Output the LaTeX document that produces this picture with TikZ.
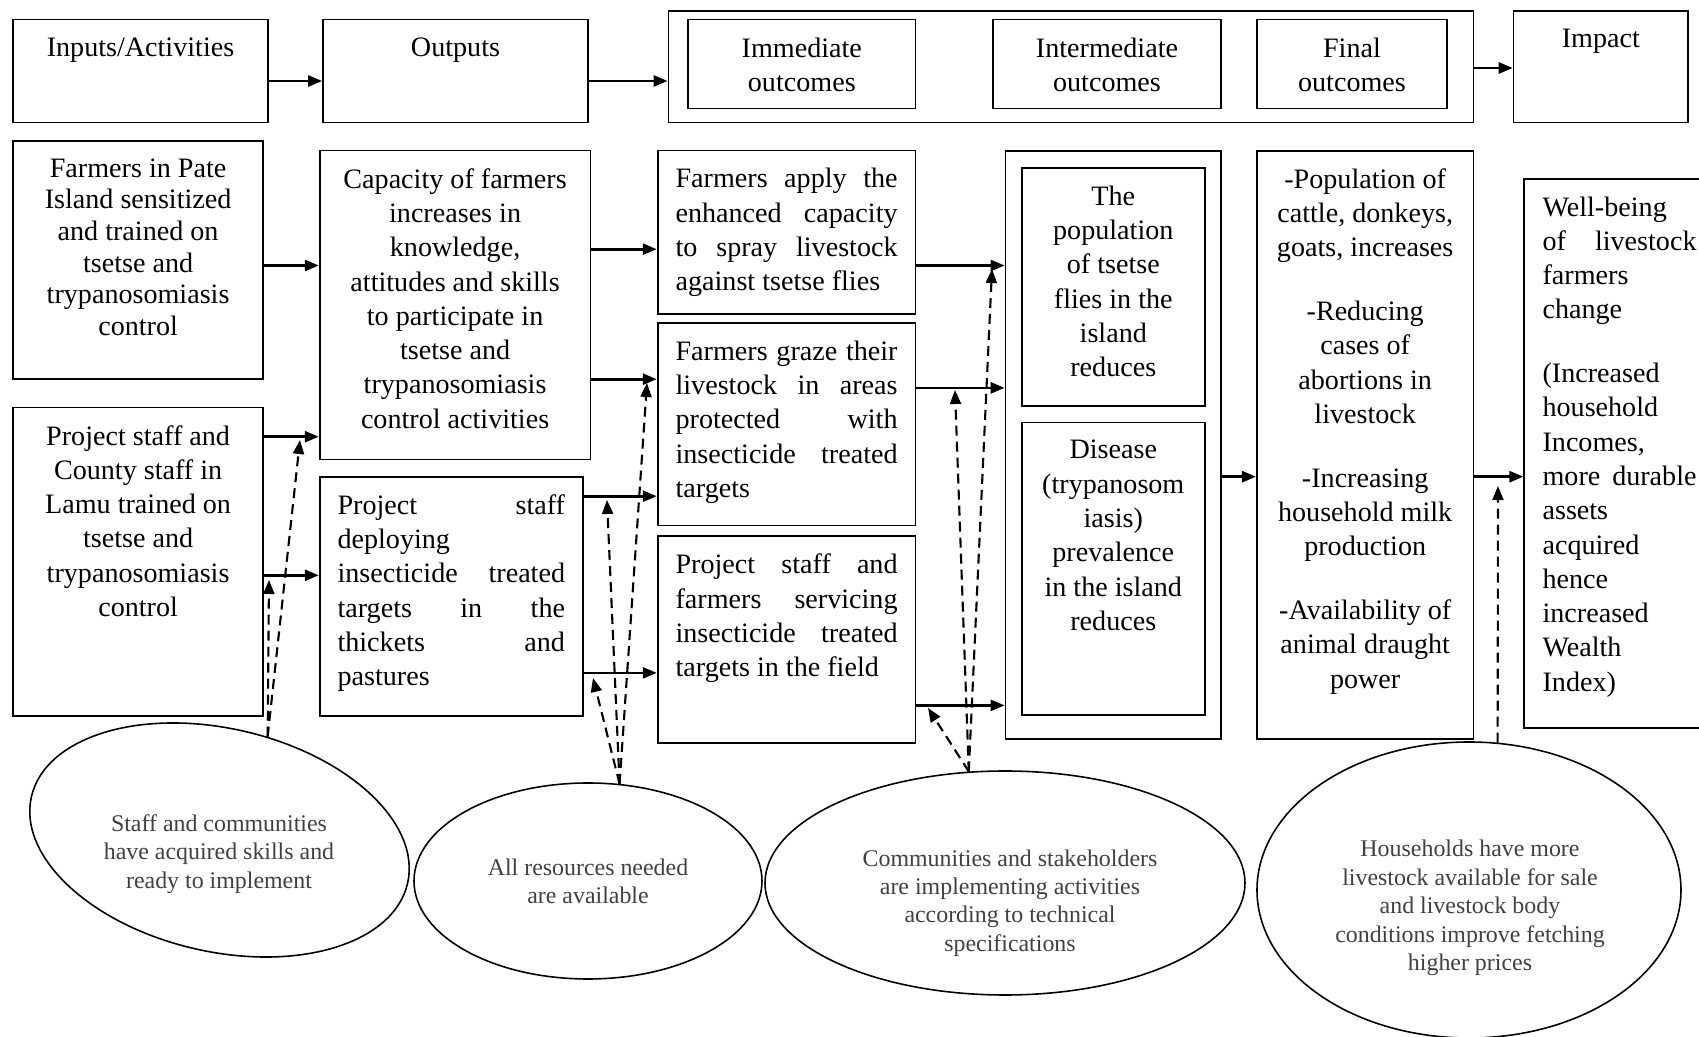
\documentclass[tikz,border=0pt]{standalone}
\usepackage{fontspec}
\setmainfont{Liberation Serif}
\usepackage{tikz}
\usetikzlibrary{shapes.geometric, arrows.meta, positioning, calc}

\tikzset{
    box/.style={rectangle,draw=black,line width=0.5pt,inner sep=0pt},
    txt/.style={font=\fontsize{8}{9.75}\selectfont,inner sep=0pt,anchor=north,align=center},
    jtxt/.style={font=\fontsize{8}{9.75}\selectfont,inner sep=0pt,anchor=north,align=justify,text width=2.22cm},
    bubble/.style={ellipse,draw=black,line width=0.45pt,inner sep=0pt},
    btxt/.style={font=\fontsize{6.8}{8.1}\selectfont,text=black!75,align=center,inner sep=0pt},
    flow/.style={line width=0.75pt,-{Triangle[length=1.4mm,width=1.1mm]}},
    hint/.style={line width=0.6pt,dash pattern=on 1mm off 0.6mm,-{Triangle[length=1.4mm,width=1.1mm]}}
}

\begin{document}
\begin{tikzpicture}
    \useasboundingbox (0,0) rectangle (16.99,-10.37);

    % Kopfzeile
    \node[box,minimum width=2.55cm,minimum height=1.03cm] (inp) at (1.405,-0.71) {};
    \node[txt] (inp-t) at ([yshift=-1.85mm]inp.north) {Inputs/Activities};
    \node[box,minimum width=2.65cm,minimum height=1.03cm] (outp) at (4.555,-0.71) {};
    \node[txt] (outp-t) at ([yshift=-1.85mm]outp.north) {Outputs};
    \node[box,minimum width=8.05cm,minimum height=1.116cm] (outc) at (10.71,-0.666) {};
    \node[box,minimum width=2.276cm,minimum height=0.89cm] (imm) at (8.018,-0.64) {};
    \node[txt] (imm-t) at ([yshift=-1.85mm]imm.north) {Immediate\\outcomes};
    \node[box,minimum width=2.276cm,minimum height=0.89cm] (intm) at (11.07,-0.64) {};
    \node[txt] (intm-t) at ([yshift=-1.85mm]intm.north) {Intermediate\\outcomes};
    \node[box,minimum width=1.896cm,minimum height=0.89cm] (fin) at (13.52,-0.64) {};
    \node[txt] (fin-t) at ([yshift=-1.85mm]fin.north) {Final\\outcomes};
    \node[box,minimum width=1.744cm,minimum height=1.116cm] (imp) at (16.008,-0.666) {};
    \node[txt] (imp-t) at ([yshift=-1.85mm]imp.north) {Impact};

    % Inputs und Outputs
    \node[box,minimum width=2.503cm,minimum height=2.383cm] (pate) at (1.381,-2.60) {};
    \node[txt,font=\fontsize{8}{9}\selectfont] (pate-t) at ([yshift=-1.8mm]pate.north) {Farmers in Pate\\Island sensitized\\and trained on\\tsetse and\\trypanosomiasis\\control};
    \node[box,minimum width=2.503cm,minimum height=3.088cm] (lamu) at (1.381,-5.618) {};
    \node[txt] (lamu-t) at ([yshift=-1.8mm]lamu.north) {Project staff and\\County staff in\\Lamu trained on\\tsetse and\\trypanosomiasis\\control};
    \node[box,minimum width=2.709cm,minimum height=3.088cm] (cap) at (4.551,-3.05) {};
    \node[txt] (cap-t) at ([yshift=-1.8mm]cap.north) {Capacity of farmers\\increases in\\knowledge,\\attitudes and skills\\to participate in\\tsetse and\\trypanosomiasis\\control activities};
    \node[box,minimum width=2.633cm,minimum height=2.395cm] (dep) at (4.513,-5.965) {};
    \node[jtxt,text width=2.275cm] (dep-t) at ([yshift=-1.8mm]dep.north) {Project staff\linebreak deploying\\ insecticide treated\linebreak targets in the\linebreak thickets and\linebreak pastures};

    % Immediate outcomes
    \node[box,minimum width=2.579cm,minimum height=1.636cm] (apply) at (7.866,-2.324) {};
    \node[jtxt] (apply-t) at ([yshift=-1.8mm]apply.north) {Farmers apply the\linebreak enhanced capacity\linebreak to spray livestock\linebreak against tsetse flies};
    \node[box,minimum width=2.579cm,minimum height=2.026cm] (graze) at (7.866,-4.242) {};
    \node[jtxt] (graze-t) at ([yshift=-1.8mm]graze.north) {Farmers graze their\linebreak livestock in areas\linebreak protected with\linebreak insecticide treated\linebreak targets};
    \node[box,minimum width=2.579cm,minimum height=2.07cm] (serv) at (7.866,-6.398) {};
    \node[jtxt] (serv-t) at ([yshift=-1.8mm]serv.north) {Project staff and\linebreak farmers servicing\linebreak insecticide treated\linebreak targets in the field};

    % Intermediate, final, impact
    \node[box,minimum width=2.156cm,minimum height=5.883cm] (intbox) at (11.133,-4.448) {};
    \node[box,minimum width=1.832cm,minimum height=2.384cm] (popn) at (11.133,-2.871) {};
    \node[txt] (popn-t) at ([yshift=-1.8mm]popn.north) {The\\population\\of tsetse\\flies in the\\island\\reduces};
    \node[box,minimum width=1.832cm,minimum height=2.925cm] (dis) at (11.133,-5.688) {};
    \node[txt] (dis-t) at ([yshift=-1.8mm]dis.north) {Disease\\(trypanosom\\iasis)\\prevalence\\in the island\\reduces};
    \node[box,minimum width=2.167cm,minimum height=5.883cm] (finl) at (13.652,-4.448) {};
    \node[txt] (finl-t) at ([yshift=-1.8mm]finl.north) {-Population of\\cattle, donkeys,\\goats, increases\\[8.4pt]-Reducing\\cases of\\abortions in\\livestock\\[8.4pt]-Increasing\\household milk\\production\\[8.4pt]-Availability of\\animal draught\\power};
    \node[box,minimum width=1.955cm,minimum height=5.493cm] (well) at (16.22,-4.534) {};
    \node[jtxt,text width=1.54cm,anchor=north west] (well-t) at ([xshift=1.85mm,yshift=-1.8mm]well.north west) {Well-being\\ of livestock\linebreak farmers\\ change\\[8.4pt] (Increased\\ household\\ Incomes,\\ more durable\linebreak assets\\ acquired\\ hence\\ increased\\ Wealth\\ Index)};

    % Annahmen
    \node[bubble,minimum width=3.86cm,minimum height=2.23cm,rotate=-13] (e1) at (2.195,-8.40) {};
    \node[btxt] (e1-t) at (2.19,-8.54) {Staff and communities\\have acquired skills and\\ready to implement};
    \node[bubble,minimum width=3.48cm,minimum height=1.96cm] (e2) at (5.88,-8.81) {};
    \node[btxt] (e2-t) at (5.88,-8.815) {All resources needed\\are available};
    \node[bubble,minimum width=4.80cm,minimum height=2.24cm] (e3) at (10.05,-8.83) {};
    \node[btxt] (e3-t) at (10.10,-9.03) {Communities and stakeholders\\are implementing activities\\according to technical\\specifications};
    \node[bubble,minimum width=4.24cm,minimum height=2.96cm] (e4) at (14.69,-8.90) {};
    \node[btxt] (e4-t) at (14.70,-9.08) {Households have more\\livestock available for sale\\and livestock body\\conditions improve fetching\\higher prices};

    % Pfeile
    \draw[flow] (inp.east |- 0,-0.81) -- (outp.west |- 0,-0.81);
    \draw[flow] (outp.east |- 0,-0.81) -- (outc.west |- 0,-0.81);
    \draw[flow] (outc.east |- 0,-0.68) -- (imp.west |- 0,-0.68);
    \draw[flow] (pate.east |- 0,-2.655) -- (cap.west |- 0,-2.655);
    \draw[flow] (lamu.east |- 0,-4.367) -- (cap.west |- 0,-4.367);
    \draw[flow] (lamu.east |- 0,-5.753) -- (dep.west |- 0,-5.753);
    \draw[flow] (cap.east |- 0,-2.492) -- (apply.west |- 0,-2.492);
    \draw[flow] (cap.east |- 0,-3.792) -- (graze.west |- 0,-3.792);
    \draw[flow] (dep.east |- 0,-4.962) -- (graze.west |- 0,-4.962);
    \draw[flow] (dep.east |- 0,-6.729) -- (serv.west |- 0,-6.729);
    \draw[flow] (apply.east |- 0,-2.655) -- (intbox.west |- 0,-2.655);
    \draw[flow] (graze.east |- 0,-3.879) -- (intbox.west |- 0,-3.879);
    \draw[flow] (serv.east |- 0,-7.054) -- (intbox.west |- 0,-7.054);
    \draw[flow] (intbox.east |- 0,-4.767) -- (finl.west |- 0,-4.767);
    \draw[flow] (finl.east |- 0,-4.767) -- (well.west |- 0,-4.767);

    % gestrichelte Pfeile
    \coordinate (h1) at (2.69,-5.80);
    \coordinate (h2) at (3.00,-4.40);
    \coordinate (h3) at (6.47,-3.83);
    \coordinate (h4) at (6.07,-5.00);
    \coordinate (h5) at (5.93,-6.78);
    \coordinate (h6) at (9.28,-7.08);
    \coordinate (h7) at (9.55,-3.90);
    \coordinate (h8) at (9.92,-2.69);
    \coordinate (h9) at (14.98,-4.86);
    \draw[hint] (e1.78) -- (h1);
    \draw[hint] (e1.78) -- (h2);
    \draw[hint] (e2.72) -- (h3);
    \draw[hint] (e2.72) -- (h4);
    \draw[hint] (e2.72) -- (h5);
    \draw[hint] (e3.108) -- (h6);
    \draw[hint] (e3.108) -- (h7);
    \draw[hint] (e3.108) -- (h8);
    \draw[hint] (e4.79) -- (h9);
\end{tikzpicture}
\end{document}
